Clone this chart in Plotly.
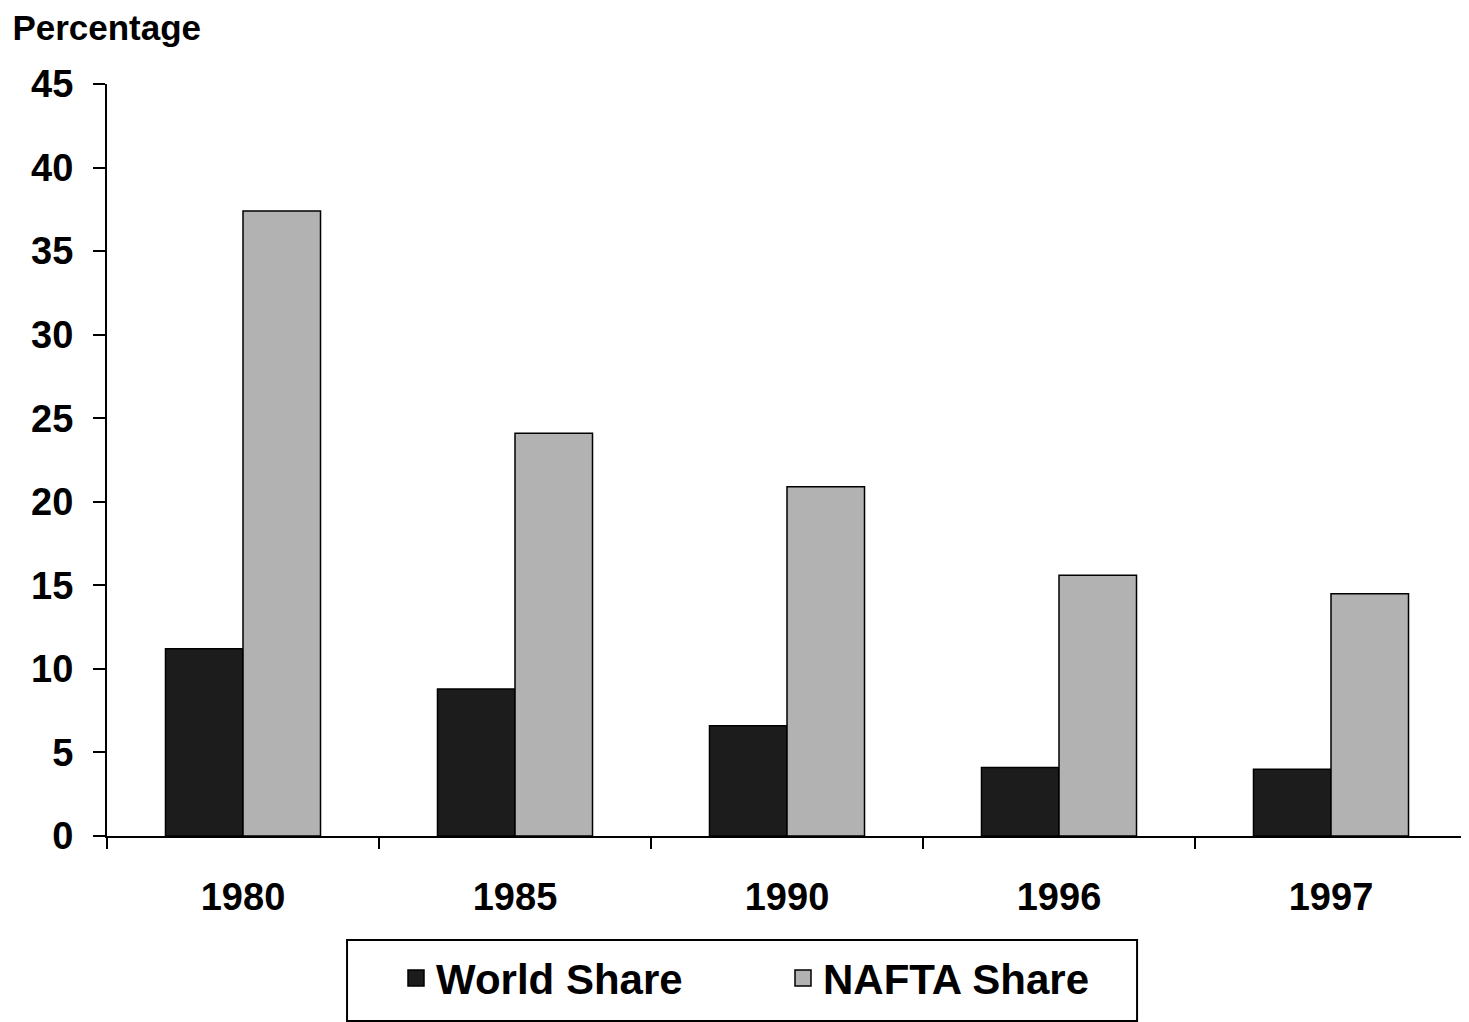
import plotly.graph_objs as go

years = ['1980', '1985', '1990', '1996', '1997']
worldShare = [11.2, 8.8, 6.6, 4.1, 4.0]
naftaShare = [37.4, 24.1, 20.9, 15.6, 14.5]
yTicks = [0, 5, 10, 15, 20, 25, 30, 35, 40, 45]

fontName = 'Liberation Sans, Arial, sans-serif'
worldColor = '#1c1c1c'
naftaColor = '#b2b2b2'

plots = []
plots.append(go.Bar(
	x=years,
	y=worldShare,
	name='World Share',
	showlegend=False,
	marker=dict(color=worldColor, line=dict(color='black', width=1.5))
))
plots.append(go.Bar(
	x=years,
	y=naftaShare,
	name='NAFTA Share',
	showlegend=False,
	marker=dict(color=naftaColor, line=dict(color='black', width=1.5))
))
# legend entries with bigger square keys
for name, color in [('World Share', worldColor), ('NAFTA Share', naftaColor)]:
	plots.append(go.Scatter(
		x=[None], y=[None],
		mode='markers',
		name=name,
		marker=dict(symbol='square', size=16, color=color, line=dict(color='black', width=1.5))
	))

graph_layout = go.Layout(
	width=1461,
	height=1014,
	paper_bgcolor='white',
	plot_bgcolor='white',
	font=dict(family=fontName, color='black', size=36),
	margin=dict(l=99, r=2, t=76, b=186),
	barmode='group',
	bargap=0.43,
	bargroupgap=0,
	title=dict(
		text='<b>Percentage</b>',
		x=0.003, xanchor='left', xref='container',
		y=0.993, yanchor='top', yref='container',
		font=dict(size=35, family=fontName, color='black')
	),
	xaxis=dict(
		type='category',
		showline=True, linecolor='black', linewidth=2,
		ticks='outside', tickson='boundaries', ticklen=11, tickwidth=2, tickcolor='black',
		tickfont=dict(size=38, family=fontName, color='black', weight='bold'),
		ticklabelstandoff=26,
		showgrid=False
	),
	yaxis=dict(
		range=[0, 45],
		tickvals=yTicks,
		showline=True, linecolor='black', linewidth=2,
		ticks='outside', ticklen=12, tickwidth=2, tickcolor='black',
		tickfont=dict(size=38, family=fontName, color='black', weight='bold'),
		ticklabelstandoff=12,
		showgrid=False, zeroline=False
	),
	legend=dict(
		orientation='h',
		x=0.2125, xanchor='left',
		y=-0.189, yanchor='middle',
		borderwidth=0,
		bgcolor='rgba(0,0,0,0)',
		font=dict(size=42, family=fontName, color='black', weight='bold'),
		entrywidth=342,
		itemsizing='trace'
	),
	shapes=[dict(
		type='rect', xref='paper', yref='paper',
		x0=0.1765, x1=0.7574, y0=-0.246, y1=-0.1383,
		line=dict(color='black', width=2)
	)],
	hovermode='closest'
)
figure = go.Figure(plots, graph_layout)
figure.write_html('out.html')
